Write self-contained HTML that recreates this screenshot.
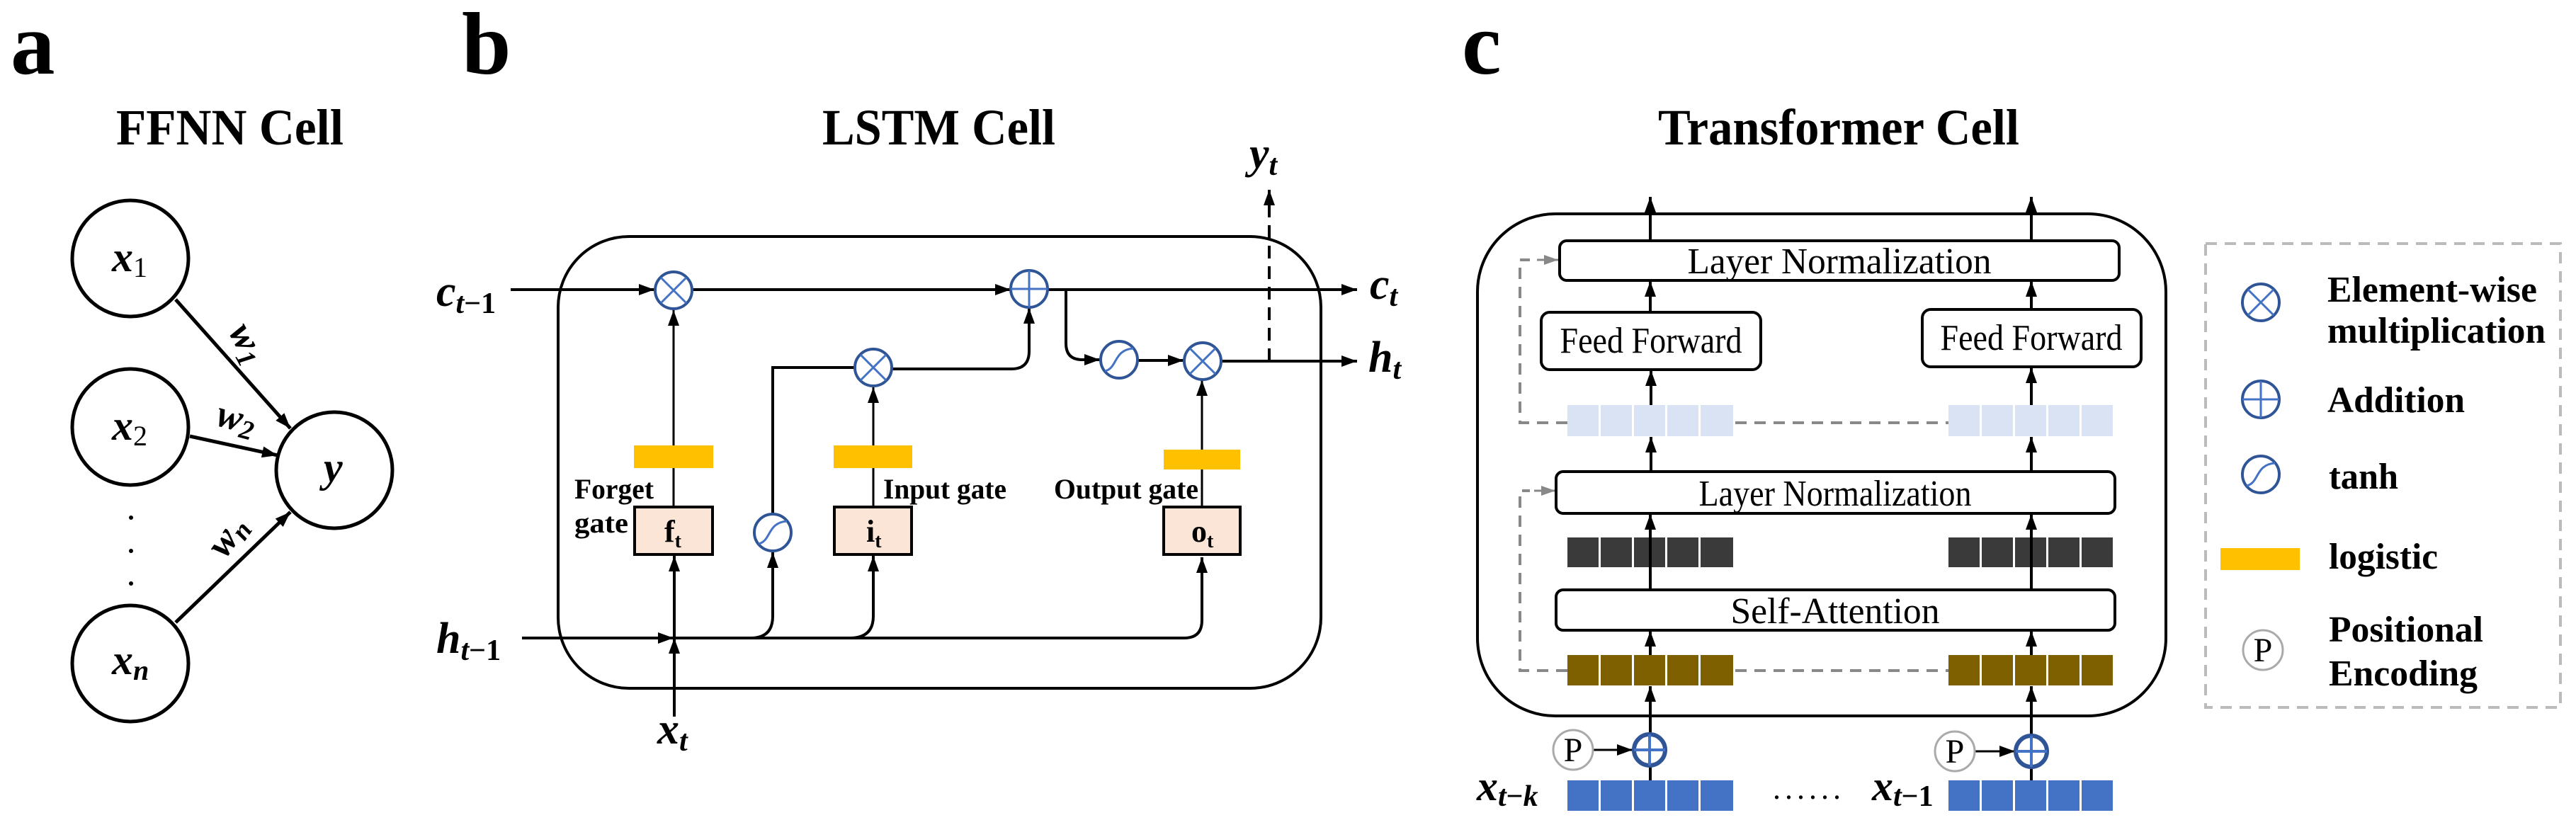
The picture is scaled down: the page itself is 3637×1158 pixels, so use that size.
<!DOCTYPE html>
<html><head><meta charset="utf-8"><style>
html,body{margin:0;padding:0;background:#fff;}
svg{display:block;font-family:"Liberation Serif","DejaVu Serif",serif;}
svg text{font-family:"Liberation Serif","DejaVu Serif",serif;}
</style></head><body>
<svg width="3637" height="1158" viewBox="0 0 3637 1158" xmlns="http://www.w3.org/2000/svg" font-family="Liberation Serif, DejaVu Serif, serif">
<defs>
<marker id="ah" markerUnits="userSpaceOnUse" markerWidth="22" markerHeight="16" refX="22" refY="8" orient="auto"><path d="M0,0 L22,8 L0,16 z" fill="#000"/></marker>
<marker id="ag" markerUnits="userSpaceOnUse" markerWidth="20" markerHeight="14" refX="20" refY="7" orient="auto"><path d="M0,0 L20,7 L0,14 z" fill="#888"/></marker>
</defs>

<!-- panel letters & titles -->
<text x="15" y="104" font-size="125" font-weight="bold">a</text>
<text x="652" y="104" font-size="125" font-weight="bold">b</text>
<text x="2064" y="104" font-size="125" font-weight="bold">c</text>
<text x="164" y="204" font-size="72" font-weight="bold" textLength="321" lengthAdjust="spacingAndGlyphs">FFNN Cell</text>
<text x="1161" y="204" font-size="72" font-weight="bold" textLength="329" lengthAdjust="spacingAndGlyphs">LSTM Cell</text>
<text x="2341" y="204" font-size="72" font-weight="bold" textLength="510" lengthAdjust="spacingAndGlyphs">Transformer Cell</text>

<!-- Panel a -->
<g fill="none" stroke="#000" stroke-width="5">
<circle cx="184" cy="365" r="82"/>
<circle cx="184" cy="603" r="82"/>
<circle cx="184" cy="937" r="82"/>
<circle cx="472" cy="664" r="82"/>
<line x1="248" y1="423" x2="410" y2="605" marker-end="url(#ah)"/>
<line x1="268" y1="616" x2="392" y2="643" marker-end="url(#ah)"/>
<line x1="248" y1="879" x2="410" y2="723" marker-end="url(#ah)"/>
</g>
<g fill="#000"><circle cx="185" cy="731" r="3"/><circle cx="185" cy="778" r="3"/><circle cx="185" cy="824" r="3"/></g>
<g font-style="italic" font-size="60" font-weight="bold">
<text x="158" y="383">x<tspan font-size="40" font-style="normal" font-weight="normal" dy="8">1</tspan></text>
<text x="158" y="621">x<tspan font-size="40" font-style="normal" font-weight="normal" dy="8">2</tspan></text>
<text x="158" y="952">x<tspan font-size="40" dy="8">n</tspan></text>
<text x="457" y="680">y</text>
<text transform="translate(322,468) rotate(62)" font-size="54">w<tspan font-size="38" dy="8">1</tspan></text>
<text transform="translate(303,600) rotate(15)" font-size="54">w<tspan font-size="38" dy="8">2</tspan></text>
<text transform="translate(318,790) rotate(-55)" font-size="54">w<tspan font-size="38" dy="8">n</tspan></text>
</g>

<!-- Panel b LSTM -->
<rect x="788" y="334" width="1077" height="638" rx="100" fill="none" stroke="#000" stroke-width="4"/>
<g fill="none" stroke="#000" stroke-width="4">
<line x1="721" y1="409" x2="924" y2="409" marker-end="url(#ah)"/>
<line x1="978" y1="409" x2="1427" y2="409" marker-end="url(#ah)"/>
<line x1="1480" y1="409" x2="1916" y2="409" marker-end="url(#ah)"/>
<path d="M1505,409 V485 Q1505,508 1528,508 H1553" marker-end="url(#ah)"/>
<line x1="1606" y1="509" x2="1671" y2="509" marker-end="url(#ah)"/>
<line x1="1724" y1="510" x2="1916" y2="510" marker-end="url(#ah)"/>
<path d="M1792,510 V268" stroke-dasharray="18 11" marker-end="url(#ah)"/>
<line x1="737" y1="901" x2="951" y2="901" marker-end="url(#ah)"/>
<path d="M951,901 H1672 Q1697,901 1697,876 V787" marker-end="url(#ah)"/>
<path d="M1060,901 Q1091,901 1091,870 V780" marker-end="url(#ah)"/>
<path d="M1200,901 Q1233,901 1233,870 V785" marker-end="url(#ah)"/>
<line x1="952" y1="1012" x2="952" y2="901" marker-end="url(#ah)"/>
<line x1="952" y1="901" x2="952" y2="785" marker-end="url(#ah)"/>
<line x1="951" y1="716" x2="951" y2="438" marker-end="url(#ah)" stroke-width="3"/>
<path d="M1091,726 V519 H1206" stroke-width="4"/>
<line x1="1233" y1="716" x2="1233" y2="547" marker-end="url(#ah)" stroke-width="3"/>
<path d="M1260,521 H1428 Q1453,521 1453,496 V435" marker-end="url(#ah)"/>
<line x1="1697" y1="716" x2="1697" y2="537" marker-end="url(#ah)" stroke-width="3"/>
</g>
<g fill="#ffc000">
<rect x="895" y="629" width="112" height="32"/>
<rect x="1177" y="629" width="111" height="32"/>
<rect x="1643" y="635" width="108" height="28"/>
</g>
<g fill="#fbe5d6" stroke="#000" stroke-width="4">
<rect x="896" y="716" width="110" height="67"/>
<rect x="1178" y="716" width="109" height="67"/>
<rect x="1643" y="716" width="108" height="67"/>
</g>
<g font-size="44" font-weight="bold">
<text x="938" y="765">f<tspan font-size="28" dy="8">t</tspan></text>
<text x="1223" y="765">i<tspan font-size="28" dy="8">t</tspan></text>
<text x="1682" y="765">o<tspan font-size="28" dy="8">t</tspan></text>
</g>
<g font-size="40" font-weight="bold">
<text x="811" y="704" textLength="112" lengthAdjust="spacingAndGlyphs">Forget</text>
<text x="811" y="752" textLength="76" lengthAdjust="spacingAndGlyphs">gate</text>
<text x="1247" y="704" textLength="174" lengthAdjust="spacingAndGlyphs">Input gate</text>
<text x="1488" y="704" textLength="204" lengthAdjust="spacingAndGlyphs">Output gate</text>
</g>
<!-- operators -->
<g fill="#fff" stroke="#2f5597" stroke-width="4">
<circle cx="951" cy="410" r="26"/>
<circle cx="1233" cy="519" r="26"/>
<circle cx="1698" cy="510" r="26"/>
<circle cx="1453" cy="408" r="26"/>
<circle cx="1580" cy="508" r="26"/>
<circle cx="1091" cy="752" r="26"/>
</g>
<g stroke="#4472c4" stroke-width="3" fill="none">
<path d="M933,392 L969,428 M969,392 L933,428"/>
<path d="M1215,501 L1251,537 M1251,501 L1215,537"/>
<path d="M1680,492 L1716,528 M1716,492 L1680,528"/>
<path d="M1427,408 H1479 M1453,382 V434"/>
<path d="M1560,524 C1578,520 1572,494 1600,492"/>
<path d="M1071,768 C1089,764 1083,738 1111,736"/>
</g>
<g font-style="italic" font-size="62" font-weight="bold">
<text x="616" y="432">c<tspan font-size="42" dy="10">t</tspan><tspan font-size="42" font-style="normal">−1</tspan></text>
<text x="616" y="922">h<tspan font-size="42" dy="10">t</tspan><tspan font-size="42" font-style="normal">−1</tspan></text>
<text x="1934" y="422">c<tspan font-size="42" dy="10">t</tspan></text>
<text x="1932" y="525">h<tspan font-size="42" dy="10">t</tspan></text>
<text x="1764" y="237">y<tspan font-size="42" dy="10">t</tspan></text>
<text x="928" y="1050">x<tspan font-size="42" dy="10">t</tspan></text>
</g>

<!-- Panel c Transformer -->
<rect x="2086" y="302" width="972" height="709" rx="110" fill="none" stroke="#000" stroke-width="4"/>
<g fill="none" stroke="#888" stroke-width="4" stroke-dasharray="16 11">
<path d="M2213,597 H2146 V367 H2160"/>
<line x1="2450" y1="597" x2="2751" y2="597"/>
<path d="M2213,947 H2146 V693 H2160"/>
<line x1="2450" y1="947" x2="2751" y2="947"/>
</g>
<g stroke="#888" stroke-width="3"><line x1="2170" y1="367" x2="2200" y2="367" marker-end="url(#ag)"/><line x1="2166" y1="693" x2="2196" y2="693" marker-end="url(#ag)"/></g>
<g fill="#dae3f3"><rect x="2213" y="572" width="44" height="44"/><rect x="2260" y="572" width="44" height="44"/><rect x="2307" y="572" width="44" height="44"/><rect x="2354" y="572" width="44" height="44"/><rect x="2401" y="572" width="46" height="44"/>
<rect x="2751" y="572" width="44" height="44"/><rect x="2798" y="572" width="44" height="44"/><rect x="2845" y="572" width="44" height="44"/><rect x="2892" y="572" width="44" height="44"/><rect x="2939" y="572" width="44" height="44"/></g>
<g fill="#3a3a3a"><rect x="2213" y="759" width="44" height="42"/><rect x="2260" y="759" width="44" height="42"/><rect x="2307" y="759" width="44" height="42"/><rect x="2354" y="759" width="44" height="42"/><rect x="2401" y="759" width="46" height="42"/>
<rect x="2751" y="759" width="44" height="42"/><rect x="2798" y="759" width="44" height="42"/><rect x="2845" y="759" width="44" height="42"/><rect x="2892" y="759" width="44" height="42"/><rect x="2939" y="759" width="44" height="42"/></g>
<g fill="#7f6000"><rect x="2213" y="925" width="44" height="43"/><rect x="2260" y="925" width="44" height="43"/><rect x="2307" y="925" width="44" height="43"/><rect x="2354" y="925" width="44" height="43"/><rect x="2401" y="925" width="46" height="43"/>
<rect x="2751" y="925" width="44" height="43"/><rect x="2798" y="925" width="44" height="43"/><rect x="2845" y="925" width="44" height="43"/><rect x="2892" y="925" width="44" height="43"/><rect x="2939" y="925" width="44" height="43"/></g>
<g fill="#4472c4"><rect x="2213" y="1102" width="44" height="43"/><rect x="2260" y="1102" width="44" height="43"/><rect x="2307" y="1102" width="44" height="43"/><rect x="2354" y="1102" width="44" height="43"/><rect x="2401" y="1102" width="46" height="43"/>
<rect x="2751" y="1102" width="44" height="43"/><rect x="2798" y="1102" width="44" height="43"/><rect x="2845" y="1102" width="44" height="43"/><rect x="2892" y="1102" width="44" height="43"/><rect x="2939" y="1102" width="44" height="43"/></g>
<g fill="#fff" stroke="#000" stroke-width="4">
<rect x="2202" y="340" width="790" height="56" rx="10"/>
<rect x="2176" y="441" width="310" height="81" rx="12"/>
<rect x="2714" y="437" width="309" height="81" rx="12"/>
<rect x="2197" y="666" width="789" height="59" rx="10"/>
<rect x="2197" y="833" width="789" height="57" rx="10"/>
</g>
<g font-size="52" text-anchor="middle">
<text x="2597" y="386" textLength="429" lengthAdjust="spacingAndGlyphs">Layer Normalization</text>
<text x="2331" y="498" textLength="257" lengthAdjust="spacingAndGlyphs">Feed Forward</text>
<text x="2868" y="494" textLength="257" lengthAdjust="spacingAndGlyphs">Feed Forward</text>
<text x="2591" y="714" textLength="385" lengthAdjust="spacingAndGlyphs">Layer Normalization</text>
<text x="2591" y="880" textLength="295" lengthAdjust="spacingAndGlyphs">Self-Attention</text>
</g>
<g stroke="#000" stroke-width="4" fill="none">
<line x1="2330" y1="340" x2="2330" y2="278" marker-end="url(#ah)"/>
<line x1="2868" y1="340" x2="2868" y2="278" marker-end="url(#ah)"/>
<line x1="2330" y1="441" x2="2330" y2="397" marker-end="url(#ah)"/>
<line x1="2868" y1="437" x2="2868" y2="397" marker-end="url(#ah)"/>
<line x1="2331" y1="572" x2="2331" y2="523" marker-end="url(#ah)"/>
<line x1="2868" y1="572" x2="2868" y2="519" marker-end="url(#ah)"/>
<line x1="2331" y1="666" x2="2331" y2="617" marker-end="url(#ah)"/>
<line x1="2868" y1="666" x2="2868" y2="617" marker-end="url(#ah)"/>
<line x1="2330" y1="833" x2="2330" y2="726" marker-end="url(#ah)"/>
<line x1="2868" y1="833" x2="2868" y2="726" marker-end="url(#ah)"/>
<line x1="2330" y1="925" x2="2330" y2="891" marker-end="url(#ah)"/>
<line x1="2868" y1="925" x2="2868" y2="891" marker-end="url(#ah)"/>
<line x1="2330" y1="1036" x2="2330" y2="969" marker-end="url(#ah)"/>
<line x1="2868" y1="1038" x2="2868" y2="969" marker-end="url(#ah)"/>
<line x1="2330" y1="1102" x2="2330" y2="1080"/>
<line x1="2868" y1="1102" x2="2868" y2="1082"/>
<line x1="2250" y1="1059" x2="2305" y2="1059" marker-end="url(#ah)" stroke-width="3"/>
<line x1="2789" y1="1061" x2="2845" y2="1061" marker-end="url(#ah)" stroke-width="3"/>
</g>
<g fill="#fff" stroke="#2f5597" stroke-width="6">
<circle cx="2329" cy="1059" r="22"/>
<circle cx="2868" cy="1061" r="22"/>
</g>
<g stroke="#4472c4" stroke-width="4"><path d="M2307,1059 H2351 M2329,1037 V1081"/><path d="M2846,1061 H2890 M2868,1039 V1083"/></g>
<g fill="#fff" stroke="#aaa" stroke-width="3">
<circle cx="2221" cy="1059" r="28"/>
<circle cx="2760" cy="1061" r="28"/>
</g>
<g font-size="48" text-anchor="middle">
<text x="2221" y="1075">P</text>
<text x="2760" y="1077">P</text>
</g>
<text x="2503" y="1128" font-size="44" textLength="96" lengthAdjust="spacing">......</text>
<g font-style="italic" font-size="60" font-weight="bold">
<text x="2085" y="1130">x<tspan font-size="42" dy="8">t</tspan><tspan font-size="42" font-style="normal">−</tspan><tspan font-size="42">k</tspan></text>
<text x="2643" y="1130">x<tspan font-size="42" dy="8">t</tspan><tspan font-size="42" font-style="normal">−1</tspan></text>
</g>

<!-- Legend -->
<rect x="3114" y="344" width="501" height="655" fill="none" stroke="#bbb" stroke-width="4" stroke-dasharray="16 11"/>
<g fill="#fff" stroke="#2f5597" stroke-width="4">
<circle cx="3192" cy="427" r="26"/>
<circle cx="3192" cy="564" r="26"/>
<circle cx="3192" cy="670" r="26"/>
</g>
<g stroke="#4472c4" stroke-width="3" fill="none">
<path d="M3174,409 L3210,445 M3210,409 L3174,445"/>
<path d="M3166,564 H3218 M3192,538 V590"/>
<path d="M3172,686 C3190,682 3184,656 3212,654"/>
</g>
<rect x="3135" y="774" width="112" height="31" fill="#ffc000"/>
<circle cx="3195" cy="918" r="28" fill="#fff" stroke="#aaa" stroke-width="3"/>
<text x="3195" y="934" font-size="48" text-anchor="middle">P</text>
<g font-size="52" font-weight="bold">
<text x="3286" y="426" textLength="296" lengthAdjust="spacingAndGlyphs">Element-wise</text>
<text x="3286" y="484" textLength="308" lengthAdjust="spacingAndGlyphs">multiplication</text>
<text x="3286" y="582" textLength="194" lengthAdjust="spacingAndGlyphs">Addition</text>
<text x="3288" y="690" textLength="98" lengthAdjust="spacingAndGlyphs">tanh</text>
<text x="3288" y="803" textLength="154" lengthAdjust="spacingAndGlyphs">logistic</text>
<text x="3288" y="906" textLength="218" lengthAdjust="spacingAndGlyphs">Positional</text>
<text x="3288" y="968" textLength="210" lengthAdjust="spacingAndGlyphs">Encoding</text>
</g>
</svg>
</body></html>
